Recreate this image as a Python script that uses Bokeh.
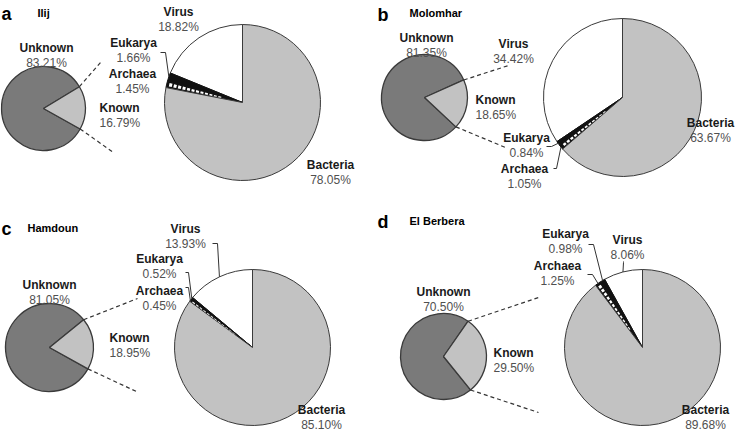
import math
from bokeh.plotting import figure
from bokeh.models import Range1d
from bokeh.core.properties import value
from bokeh.embed import file_html
from bokeh.resources import INLINE

# ---------------- data ----------------
panel_letters = ["a", "b", "c", "d"]
site_names = ["Ilij", "Molomhar", "Hamdoun", "El Berbera"]
unknown_pct = [83.21, 81.35, 81.05, 70.50]
known_pct = [16.79, 18.65, 18.95, 29.50]
domain_names = ["Virus", "Eukarya", "Archaea", "Bacteria"]
virus_pct = [18.82, 34.42, 13.93, 8.06]
eukarya_pct = [1.66, 0.84, 0.52, 0.98]
archaea_pct = [1.45, 1.05, 0.45, 1.25]
bacteria_pct = [78.05, 63.67, 85.10, 89.68]

# ---------------- layout (pixel coordinates, origin top-left) ----------------
W, H = 736, 431
LAYOUT = [
    dict(letter=(1, 13), title=(37, 12), small=(43, 108, 42), big=(242, 102, 78), known_mid=1,
         labels={"Unknown": (46, 47, "center"), "Known": (99, 107, "left"),
                 "Virus": (178, 11, "center"), "Eukarya": (133, 42, "center"),
                 "Archaea": (132, 73, "center"), "Bacteria": (330, 164, "center")},
         dash_ends=[(100, 62), (113, 152)],
         leaders={"Eukarya": ((160, 52), (165, 52))}),
    dict(letter=(377, 14), title=(409, 12), small=(424, 97, 43), big=(622, 97, 79), known_mid=-9.5,
         labels={"Unknown": (426, 37, "center"), "Known": (475, 99, "left"),
                 "Virus": (513, 43, "center"), "Eukarya": (526, 137, "center"),
                 "Archaea": (524, 168, "center"), "Bacteria": (710, 122, "center")},
         dash_ends=[(508, 65), (505, 147)],
         leaders={"Eukarya": ((546, 146), (551, 146)), "Archaea": ((553, 168), (556, 168))}),
    dict(letter=(1, 228), title=(27, 227), small=(49, 347, 44), big=(252, 347, 78), known_mid=5,
         labels={"Unknown": (49, 284, "center"), "Known": (109, 337, "left"),
                 "Virus": (185, 228, "center"), "Eukarya": (159, 258, "center"),
                 "Archaea": (159, 290, "center"), "Bacteria": (321, 409, "center")},
         dash_ends=[(137, 298), (138, 392)],
         leaders={"Virus": ((212, 243), (217, 243)), "Eukarya": ((185, 272), (188, 272)),
                  "Archaea": ((185, 287), (188, 287))}),
    dict(letter=(377, 221), title=(409, 220), small=(443, 356, 43), big=(642, 347, 78), known_mid=2,
         labels={"Unknown": (443, 291, "center"), "Known": (493, 352, "left"),
                 "Virus": (627, 239, "center"), "Eukarya": (565, 233, "center"),
                 "Archaea": (557, 265, "center"), "Bacteria": (705, 409, "center")},
         dash_ends=[(538, 297), (538, 412)],
         leaders={"Eukarya": ((588, 244), (593, 244)), "Archaea": ((587, 274), (592, 274)),
                  "Virus": ((623, 261), (623, 262))}),
]

FONT = value("Liberation Sans")
C_UNKNOWN = "#7a7a7a"
C_KNOWN = "#c2c2c2"
C_BACT = "#c2c2c2"
C_VIRUS = "#ffffff"
C_BLACK = "#111111"
C_EDGE = "#3a3a3a"
C_LABEL = "#1a1a1a"
C_PCT = "#505050"

p = figure(width=W, height=H, x_range=Range1d(0, W), y_range=Range1d(0, H),
           output_backend="svg", toolbar_location=None, min_border=0,
           x_axis_location=None, y_axis_location=None)
p.grid.visible = False
p.outline_line_color = None
p.background_fill_color = "white"
p.border_fill_color = "white"


def Y(py):
    return H - py


def rad(d):
    return d * math.pi / 180.0


def add_text(x, y, txt, size, bold, color, align):
    p.text(x=[x], y=[Y(y)], text=[txt], text_font=FONT, text_font_size=size,
           text_font_style="bold" if bold else "normal", text_color=color,
           text_align=align, text_baseline="alphabetic")


for i, L in enumerate(LAYOUT):
    # panel letter and title
    add_text(L["letter"][0], L["letter"][1], panel_letters[i], "18px", True, "#000000", "left")
    add_text(L["title"][0], L["title"][1], site_names[i], "11px", True, "#000000", "left")

    # ---- small pie: Unknown / Known ----
    sx, sy, sr = L["small"]
    k_span = known_pct[i] / 100.0 * 360.0
    k_start = L["known_mid"] - k_span / 2.0
    k_end = L["known_mid"] + k_span / 2.0
    p.wedge(x=[sx], y=[Y(sy)], radius=sr, start_angle=rad(k_end), end_angle=rad(k_start + 360),
            fill_color=C_UNKNOWN, line_color=C_EDGE, line_width=1.3)
    p.wedge(x=[sx], y=[Y(sy)], radius=sr, start_angle=rad(k_start), end_angle=rad(k_end),
            fill_color=C_KNOWN, line_color=C_EDGE, line_width=1.3)

    # dashed connectors from Known slice edges
    for ang, (ex, ey) in zip([k_end, k_start], L["dash_ends"]):
        x0 = sx + sr * math.cos(rad(ang))
        y0 = Y(sy) + sr * math.sin(rad(ang))
        p.line(x=[x0, ex], y=[y0, Y(ey)], line_color="#333333", line_width=1.2, line_dash="4 3")

    # ---- big pie: Virus, Eukarya, Archaea, Bacteria (counter-clockwise from 12 o'clock) ----
    bx, by, br = L["big"]
    vals = [virus_pct[i], eukarya_pct[i], archaea_pct[i], bacteria_pct[i]]
    total = sum(vals)
    fills = [C_VIRUS, C_BLACK, C_BLACK, C_BACT]
    angles = {}
    a0 = 90.0
    for name, v, fc in zip(domain_names, vals, fills):
        a1 = a0 + v / total * 360.0
        angles[name] = (a0, a1)
        lc = C_EDGE if name in ("Virus", "Bacteria") else C_BLACK
        p.wedge(x=[bx], y=[Y(by)], radius=br, start_angle=rad(a0), end_angle=rad(a1),
                fill_color=fc, line_color=lc, line_width=1.0)
        a0 = a1

    # Archaea: white dashes inside the black slice
    s0, s1 = angles["Archaea"]
    span = s1 - s0
    r = br * 0.28
    while r < br - 2:
        p.annular_wedge(x=[bx], y=[Y(by)], inner_radius=r, outer_radius=min(r + 3.0, br - 1.5),
                        start_angle=rad(s0 + span * 0.24), end_angle=rad(s1 - span * 0.24),
                        fill_color="white", line_color=None)
        r += 4.6

    # ---- labels ----
    pct_map = {"Unknown": unknown_pct[i], "Known": known_pct[i], "Virus": virus_pct[i],
               "Eukarya": eukarya_pct[i], "Archaea": archaea_pct[i], "Bacteria": bacteria_pct[i]}
    for name, (lx, ly, al) in L["labels"].items():
        add_text(lx, ly, name, "12px", True, C_LABEL, al)
        add_text(lx, ly + 15, "%.2f%%" % pct_map[name], "12px", False, C_PCT, al)

    # ---- leader lines ----
    for name, ((x0, y0), (x1, y1)) in L["leaders"].items():
        a_s, a_e = angles[name]
        am = rad((a_s + a_e) / 2.0)
        px = bx + br * math.cos(am)
        py = Y(by) + br * math.sin(am)
        p.line(x=[x0, x1, px], y=[Y(y0), Y(y1), py], line_color="#333333", line_width=1.0)

open("out.html", "w").write(file_html(p, INLINE))
